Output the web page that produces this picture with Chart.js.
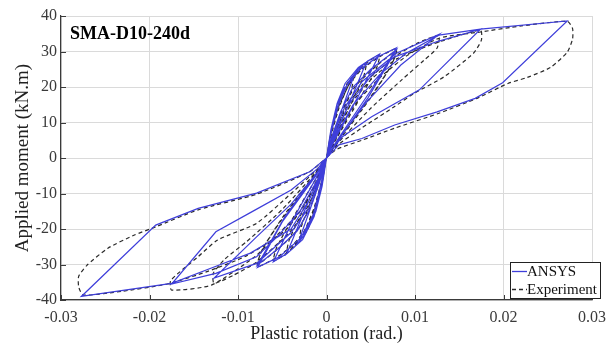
<!DOCTYPE html>
<html>
<head>
<meta charset="utf-8">
<script src="https://cdn.jsdelivr.net/npm/chart.js@4.4.1/dist/chart.umd.min.js"></script>
<style>
  html, body { margin: 0; padding: 0; background: #fff; }
  #wrap { position: relative; width: 614px; height: 345px; }
</style>
</head>
<body>
<div id="wrap"><canvas id="c" width="614" height="345"></canvas></div>
<script>
// ---- Tick labels ----
const rotTicks = [-0.03, -0.02, -0.01, 0, 0.01, 0.02, 0.03];
const rotTickLabels = ['-0.03', '-0.02', '-0.01', '0', '0.01', '0.02', '0.03'];
const momTicks = [-40, -30, -20, -10, 0, 10, 20, 30, 40];
const momTickLabels = ['-40', '-30', '-20', '-10', '0', '10', '20', '30', '40'];

const chartTitle = 'SMA-D10-240d';
const seriesNames = ['ANSYS', 'Experiment'];
const xTitle = 'Plastic rotation (rad.)';
const yTitle = 'Applied moment (kN.m)';

// ---- ANSYS series (plastic rotation, moment) ----
const ansysRot = [
  0, 0.0005, 0.0012, 0.002, 0.003, 0.0015, 0.0004, 0,
  -0.0005, -0.0012, -0.002, -0.003, -0.0015, -0.0004, 0,
  0.0005, 0.0012, 0.0025, 0.0036, 0.0045, 0.0025, 0.0006, 0,
  -0.0005, -0.0013, -0.0026, -0.0036, -0.0045, -0.0025, -0.0006, 0,
  0.0005, 0.0012, 0.0021, 0.0036, 0.0048, 0.006, 0.0035, 0.0008, 0,
  -0.0005, -0.0014, -0.0027, -0.0045, -0.006, -0.0035, -0.0008, 0,
  0.0005, 0.0013, 0.0023, 0.0038, 0.0058, 0.0079, 0.005, 0.0012, 0,
  -0.0006, -0.0015, -0.0029, -0.0053, -0.0078, -0.005, -0.0012, 0,
  0.0006, 0.0016, 0.003, 0.005, 0.0079, 0.0047, 0.0012, 0,
  -0.0007, -0.0018, -0.0033, -0.0052, -0.0078, -0.0047, -0.0012, 0,
  0.0007, 0.002, 0.004, 0.0079, 0.0127, 0.0084, 0.0044, 0.001, 0,
  -0.0008, -0.002, -0.004, -0.0079, -0.0127, -0.0079, -0.004, -0.001, 0,
  0.0008, 0.0025, 0.005, 0.0077, 0.0125, 0.0174, 0.0105, 0.0051, 0.0018, 0.0005, 0,
  -0.001, -0.003, -0.0055, -0.0079, -0.0125, -0.0175, -0.0125, -0.0084, -0.004, -0.001, 0,
  0.001, 0.003, 0.006, 0.009, 0.0127, 0.0174, 0.0272, 0.0199, 0.0168, 0.0125, 0.0077, 0.004, 0.0014, 0,
  -0.0005, -0.002, -0.004, -0.0086, -0.013, -0.0175, -0.0277, -0.0193, -0.0145, -0.0079, -0.0019, 0
];
const ansysMom = [
  0, 8, 15, 19.5, 22.5, 12, 4, 0,
  -8, -15, -19.5, -22.5, -12, -4, 0,
  8, 15, 21.5, 25, 27, 15, 4, 0,
  -8, -15.5, -22, -25, -27, -15, -4, 0,
  8, 15.4, 21, 25.5, 27.5, 29.3, 17, 4.5, 0,
  -7.5, -16.5, -23, -27, -29.2, -16, -4, 0,
  7, 14.5, 20.5, 25, 28.5, 31, 19, 5, 0,
  -7, -16, -22.5, -27.8, -30.8, -18, -5, 0,
  6, 13, 20, 25, 30.5, 17, 4.5, 0,
  -6, -14, -20.5, -25, -30.2, -16.5, -4.5, 0,
  6, 14, 21.5, 29.5, 34.8, 26.2, 15.4, 4, 0,
  -6, -14, -21, -29.7, -33.8, -22.2, -13, -4, 0,
  6, 15, 23, 28.5, 32.8, 36.3, 19.2, 11.6, 6, 2, 0,
  -6, -15, -22, -27.8, -32.5, -35.5, -20.8, -15.1, -9, -3, 0,
  6, 15, 23.5, 29.5, 34.6, 36.3, 38.6, 21.2, 16.8, 13, 9.3, 5.5, 3.7, 0,
  -4, -12, -20, -26.8, -31, -35.3, -39, -18.9, -14.2, -9.9, -3.9, 0
];

// ---- Experiment series (plastic rotation, moment) ----
const expRot = [
  0, 0.0005, 0.0012, 0.002, 0.003, 0.0028, 0.0016, 0.0005, 0,
  -0.0005, -0.0012, -0.002, -0.003, -0.0028, -0.0016, -0.0005, 0,
  0.0005, 0.0013, 0.0026, 0.0036, 0.0045, 0.0042, 0.0027, 0.0007, 0,
  -0.0005, -0.0013, -0.0026, -0.0036, -0.0045, -0.0042, -0.0027, -0.0007, 0,
  0.0005, 0.0013, 0.0022, 0.0037, 0.0049, 0.006, 0.0056, 0.0037, 0.0009, 0,
  -0.0005, -0.0013, -0.0022, -0.0037, -0.0049, -0.006, -0.0056, -0.0037, -0.0009, 0,
  0.0006, 0.0014, 0.0025, 0.004, 0.006, 0.0079, 0.0074, 0.0052, 0.0013, 0,
  -0.0006, -0.0014, -0.0025, -0.004, -0.006, -0.0078, -0.0073, -0.0051, -0.0013, 0,
  0.0007, 0.0017, 0.0032, 0.0052, 0.0079, 0.0073, 0.005, 0.0013, 0,
  -0.0007, -0.0017, -0.0032, -0.0052, -0.0078, -0.0072, -0.0049, -0.0013, 0,
  0.0008, 0.0022, 0.0042, 0.008, 0.0104, 0.0127, 0.0125, 0.011, 0.0085, 0.005, 0.0012, 0,
  -0.0008, -0.0022, -0.0042, -0.008, -0.0105, -0.0127, -0.0128, -0.0115, -0.009, -0.005, -0.0012, 0,
  0.001, 0.0027, 0.0052, 0.008, 0.0125, 0.0174, 0.0175, 0.0166, 0.0133, 0.0099, 0.0077, 0.004, 0.0012, 0,
  -0.001, -0.003, -0.0057, -0.0082, -0.013, -0.0175, -0.0176, -0.0145, -0.0123, -0.0079, -0.004, -0.0012, 0,
  0.0012, 0.0032, 0.0062, 0.0092, 0.0128, 0.0174, 0.022, 0.0272, 0.0278, 0.0278, 0.0272, 0.0253, 0.0227, 0.0205, 0.017, 0.0127, 0.0077, 0.004, 0.0012, 0,
  -0.0006, -0.0022, -0.0045, -0.009, -0.0135, -0.018, -0.023, -0.0275, -0.028, -0.028, -0.0271, -0.0247, -0.0217, -0.0193, -0.0145, -0.0079, -0.002, 0
];
const expMom = [
  0, 7, 14, 19, 22.5, 19, 11, 3.5, 0,
  -7, -14, -19, -22.5, -19, -11, -3.5, 0,
  7, 14, 21, 24.5, 26.8, 23, 15, 4, 0,
  -7, -14, -21, -24.5, -26.8, -23, -15, -4, 0,
  7, 14.5, 20.5, 25, 27.5, 29, 25, 16.5, 4.5, 0,
  -7, -14.5, -20.5, -25, -27.5, -29, -25, -16.5, -4.5, 0,
  7, 14, 20.5, 25, 28.5, 30.8, 26.5, 18, 5, 0,
  -7, -14, -20.5, -25, -28.5, -30.5, -26, -17.5, -5, 0,
  6, 13, 20, 25, 30.2, 26, 17, 4.5, 0,
  -6, -13, -20, -25, -30, -25.5, -16.5, -4.5, 0,
  6, 14, 21, 29, 32.5, 34.5, 31, 27.5, 22, 14, 4, 0,
  -6, -14, -21, -29.5, -33, -35.3, -32.5, -28.5, -23.5, -14.5, -4, 0,
  6, 15, 22.5, 28, 32.5, 36, 33.2, 29.5, 22.9, 18.2, 14.5, 8.5, 3.5, 0,
  -6, -15, -22, -28, -35.8, -37.2, -34.5, -27.8, -23.1, -18.4, -10, -3.5, 0,
  6, 15, 23, 29, 33.8, 35.5, 37.2, 38.5, 36.5, 33.5, 29.8, 25.5, 22.7, 21, 16.8, 12.6, 8.4, 5, 2.5, 0,
  -4, -12, -20, -27.5, -32, -35.5, -37.5, -38.6, -36.3, -33.3, -30.3, -25.4, -21.7, -19.4, -14.6, -10.2, -4, 0
];

const toPoints = (xs, ys) => xs.map((x, i) => ({ x: x, y: ys[i] }));

const SERIF = '"Liberation Serif", "Times New Roman", serif';
const ANSYS_COLOR = 'rgb(62,62,218)';
const EXP_COLOR = '#2a2a2a';
const AXIS_COLOR = '#3a3a3a';

const decorPlugin = {
  id: 'decor',
  afterDraw(chart) {
    const ctx = chart.ctx;
    const xs = chart.scales.x, ys = chart.scales.y;
    const a = chart.chartArea;
    ctx.save();
    // inward ticks
    ctx.strokeStyle = AXIS_COLOR;
    ctx.lineWidth = 1;
    ctx.beginPath();
    rotTicks.forEach(v => {
      const px = Math.round(xs.getPixelForValue(v)) + 0.5;
      ctx.moveTo(px, a.bottom);
      ctx.lineTo(px, a.bottom - 5);
    });
    momTicks.forEach(v => {
      const py = Math.round(ys.getPixelForValue(v)) + 0.5;
      ctx.moveTo(a.left, py);
      ctx.lineTo(a.left + 5, py);
    });
    ctx.stroke();
    // title inside plot
    ctx.fillStyle = '#000';
    ctx.font = 'bold 18px ' + SERIF;
    ctx.textBaseline = 'middle';
    ctx.textAlign = 'left';
    ctx.fillText(chartTitle, a.left + 9, a.top + 18);
    // legend box
    const bx = 510, by = 262, bw = 90, bh = 36;
    ctx.fillStyle = '#fff';
    ctx.fillRect(bx, by, bw, bh);
    ctx.strokeStyle = '#222';
    ctx.lineWidth = 1;
    ctx.strokeRect(bx + 0.5, by + 0.5, bw, bh);
    ctx.font = '15px ' + SERIF;
    ctx.fillStyle = '#111';
    ctx.beginPath();
    ctx.strokeStyle = ANSYS_COLOR;
    ctx.lineWidth = 1.3;
    ctx.moveTo(bx + 2, by + 9.5);
    ctx.lineTo(bx + 17, by + 9.5);
    ctx.stroke();
    ctx.fillText(seriesNames[0], bx + 17, by + 10);
    ctx.beginPath();
    ctx.strokeStyle = EXP_COLOR;
    ctx.setLineDash([4, 3]);
    ctx.moveTo(bx + 2, by + 27.5);
    ctx.lineTo(bx + 17, by + 27.5);
    ctx.stroke();
    ctx.setLineDash([]);
    ctx.fillText(seriesNames[1], bx + 17, by + 28);
    ctx.restore();
  }
};

new Chart(document.getElementById('c'), {
  type: 'scatter',
  data: {
    datasets: [
      {
        label: seriesNames[0],
        data: toPoints(ansysRot, ansysMom),
        showLine: true,
        borderColor: ANSYS_COLOR,
        borderWidth: 1.2,
        pointRadius: 0,
        tension: 0,
        order: 0
      },
      {
        label: seriesNames[1],
        data: toPoints(expRot, expMom),
        showLine: true,
        borderColor: EXP_COLOR,
        borderWidth: 1.2,
        borderDash: [4, 3],
        pointRadius: 0,
        tension: 0.2,
        order: 1
      }
    ]
  },
  options: {
    responsive: false,
    animation: false,
    devicePixelRatio: 1,
    layout: { padding: { left: 0, top: 16, right: 13, bottom: 0 } },
    plugins: { legend: { display: false }, tooltip: { enabled: false } },
    scales: {
      x: {
        type: 'linear',
        min: -0.03, max: 0.03,
        afterBuildTicks: s => { s.ticks = rotTicks.map(v => ({ value: v })); },
        afterFit: s => { s.height = 45; },
        ticks: {
          callback: (v) => rotTickLabels[rotTicks.findIndex(t => Math.abs(t - v) < 1e-9)],
          font: { family: SERIF, size: 16 },
          color: AXIS_COLOR,
          padding: 8,
          maxRotation: 0
        },
        grid: { color: '#dadada', lineWidth: 1, tickLength: 0 },
        border: { display: true, color: AXIS_COLOR, width: 1.2 },
        title: {
          display: true, text: xTitle,
          font: { family: SERIF, size: 18 }, color: '#222',
          padding: { top: 0, bottom: 0 }
        }
      },
      y: {
        type: 'linear',
        min: -40, max: 40,
        afterBuildTicks: s => { s.ticks = momTicks.map(v => ({ value: v })); },
        afterFit: s => { s.width = 61; },
        ticks: {
          callback: (v) => momTickLabels[momTicks.indexOf(v)],
          font: { family: SERIF, size: 16 },
          color: AXIS_COLOR,
          padding: 4
        },
        grid: { color: '#dadada', lineWidth: 1, tickLength: 0 },
        border: { display: true, color: AXIS_COLOR, width: 1.2 },
        title: {
          display: true, text: yTitle,
          font: { family: SERIF, size: 19 }, color: '#222',
          padding: { top: 12, bottom: 0 }
        }
      }
    }
  },
  plugins: [decorPlugin]
});
</script>
</body>
</html>
